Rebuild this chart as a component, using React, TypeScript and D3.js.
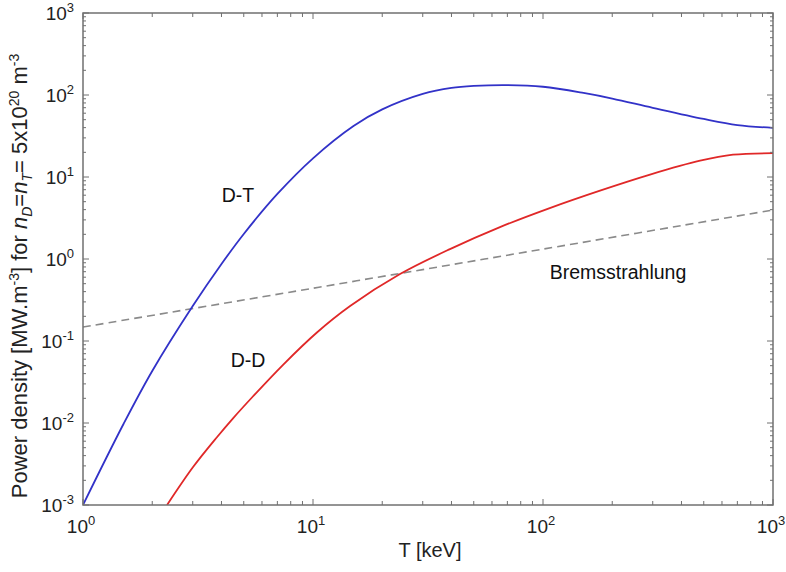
import React from 'react';
import * as d3 from 'd3';

// D-T fusion power density, [T keV, MW/m^3]
const dtCurve: [number, number][] = [
  [1, 0.001], [1.5, 0.00972], [2, 0.0431], [3, 0.267], [4, 0.869],
  [5, 2.02], [7, 6.21], [10, 16.9], [15, 41.9], [20, 66.7],
  [30, 103], [40, 122], [50, 129], [70, 132], [100, 126],
  [150, 106], [200, 90.6], [300, 69.8], [500, 51], [700, 43], [1000, 39.8],
];

// D-D fusion power density
const ddCurve: [number, number][] = [
  [2.32, 0.001], [3.01, 0.0029], [3.83, 0.00675], [4.49, 0.0114], [5.49, 0.0212],
  [7.41, 0.0513], [10.4, 0.127], [14.5, 0.267], [23.9, 0.655], [39.4, 1.32],
  [65, 2.45], [107, 4.18], [177, 6.82], [292, 10.7], [482, 15.8],
  [670, 18.7], [1000, 19.5],
];

// Bremsstrahlung loss (straight on log-log)
const bremsCurve: [number, number][] = [
  [1, 0.148], [10, 0.44], [100, 1.32], [1000, 3.96],
];

const xDecades = [0, 1, 2, 3];
const yDecades = [-3, -2, -1, 0, 1, 2, 3];

const W = 786;
const H = 572;
const margin = { left: 83, top: 13, right: 13, bottom: 67 };
const FONT = 'Liberation Sans, Arial, sans-serif';

export default function App() {
  const x = d3.scaleLog().domain([1, 1000]).range([margin.left, W - margin.right]);
  const y = d3.scaleLog().domain([1e-3, 1e3]).range([H - margin.bottom, margin.top]);
  const [x0, x1] = x.range();
  const [y0, y1] = y.range();

  const line = d3.line<[number, number]>()
    .x(d => x(d[0]))
    .y(d => y(d[1]))
    .curve(d3.curveCatmullRom.alpha(0.5));

  // minor ticks: 2..9 in each decade
  const minorX: number[] = [];
  xDecades.slice(0, -1).forEach(e => { for (let k = 2; k <= 9; k++) minorX.push(k * 10 ** e); });
  const minorY: number[] = [];
  yDecades.slice(0, -1).forEach(e => { for (let k = 2; k <= 9; k++) minorY.push(k * 10 ** e); });

  const axisColor = '#707070';

  return (
    <svg width={W} height={H} style={{ position: 'absolute', left: 0, top: 0, background: '#fff' }} fontFamily={FONT}>
      <defs>
        <clipPath id="plot">
          <rect x={x0} y={y1} width={x1 - x0} height={y0 - y1} />
        </clipPath>
      </defs>

      <g clipPath="url(#plot)" fill="none">
        <path d={line(bremsCurve) || ''} stroke="#8a8a8a" strokeWidth={1.6} strokeDasharray="8,5" />
        <path d={line(ddCurve) || ''} stroke="#e02828" strokeWidth={1.8} />
        <path d={line(dtCurve) || ''} stroke="#3232c8" strokeWidth={1.8} />
      </g>

      {/* frame and ticks */}
      <g stroke={axisColor} strokeWidth={1}>
        <rect x={x0} y={y1} width={x1 - x0} height={y0 - y1} fill="none" strokeWidth={1.5} />
        {xDecades.map(e => (
          <g key={'xM' + e}>
            <line x1={x(10 ** e)} x2={x(10 ** e)} y1={y0} y2={y0 - 6} />
            <line x1={x(10 ** e)} x2={x(10 ** e)} y1={y1} y2={y1 + 6} />
          </g>
        ))}
        {minorX.map(v => (
          <g key={'xm' + v}>
            <line x1={x(v)} x2={x(v)} y1={y0} y2={y0 - 4} />
            <line x1={x(v)} x2={x(v)} y1={y1} y2={y1 + 4} />
          </g>
        ))}
        {yDecades.map(e => (
          <g key={'yM' + e}>
            <line x1={x0} x2={x0 + 6} y1={y(10 ** e)} y2={y(10 ** e)} />
            <line x1={x1} x2={x1 - 6} y1={y(10 ** e)} y2={y(10 ** e)} />
          </g>
        ))}
        {minorY.map(v => (
          <g key={'ym' + v}>
            <line x1={x0} x2={x0 + 3} y1={y(v)} y2={y(v)} />
            <line x1={x1} x2={x1 - 3} y1={y(v)} y2={y(v)} />
          </g>
        ))}
      </g>

      {/* tick labels */}
      <g fill="#222" fontSize={19}>
        {yDecades.map(e => (
          <text key={'yl' + e} x={x0 - 9} y={y(10 ** e) + 7} textAnchor="end">
            10<tspan dy={-8} fontSize={13}>{e}</tspan>
          </text>
        ))}
        {xDecades.map(e => (
          <text key={'xl' + e} x={x(10 ** e) - 2} y={y0 + 28} textAnchor="middle">
            10<tspan dy={-8} fontSize={13}>{e}</tspan>
          </text>
        ))}
      </g>

      {/* axis titles */}
      <text x={430} y={557} textAnchor="middle" fontSize={20} fill="#222">T [keV]</text>
      <text transform={`translate(27,276) rotate(-90)`} textAnchor="middle" fontSize={22} fill="#222">
        Power density [MW.m<tspan dy={-8} fontSize={14}>-3</tspan>
        <tspan dy={8}>] for </tspan>
        <tspan fontStyle="italic">n</tspan><tspan dy={5} fontSize={14} fontStyle="italic">D</tspan>
        <tspan dy={-5}>=</tspan>
        <tspan fontStyle="italic">n</tspan><tspan dy={5} fontSize={14} fontStyle="italic">T</tspan>
        <tspan dy={-5}>= 5x10</tspan><tspan dy={-8} fontSize={14}>20</tspan>
        <tspan dy={8}> m</tspan><tspan dy={-8} fontSize={14}>-3</tspan>
      </text>

      {/* curve labels */}
      <g fontSize={19.5} fill="#111">
        <text x={x(4.72)} y={y(6.0) + 7} textAnchor="middle">D-T</text>
        <text x={x(5.22)} y={y(0.0586) + 7} textAnchor="middle">D-D</text>
        <text x={x(107)} y={y(0.69) + 7} textAnchor="start">Bremsstrahlung</text>
      </g>
    </svg>
  );
}
